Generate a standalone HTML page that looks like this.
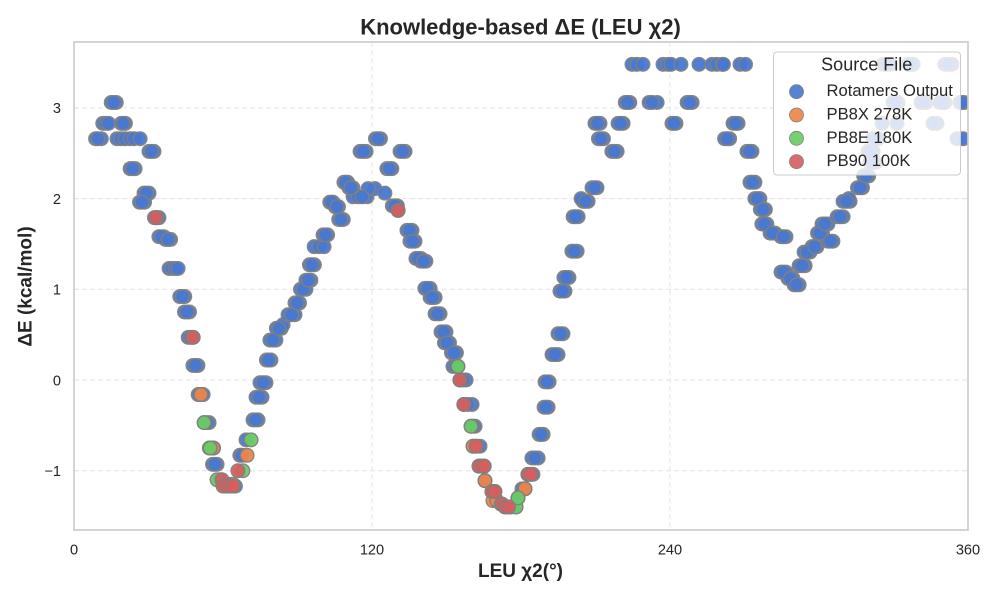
<!DOCTYPE html>
<html lang="en">
<head>
<meta charset="utf-8">
<title>Knowledge-based ΔE (LEU χ2)</title>
<style>
html,body{margin:0;padding:0;background:#fff;}
svg{display:block;font-family:"Liberation Sans",Arial,sans-serif;}
</style>
</head>
<body>
<svg id="chart" xmlns="http://www.w3.org/2000/svg" width="1000" height="600" viewBox="0 0 1000 600">
  <defs><clipPath id="plot-clip"><rect x="74" y="42" width="894" height="488"/></clipPath></defs>
  <rect width="1000" height="600" fill="#fff"/>
  <g id="grid"></g>
  <g id="marks" clip-path="url(#plot-clip)"></g>
  <rect x="74" y="42" width="894" height="488" fill="none" stroke="#cccccc" stroke-width="1.7"/>
  <g id="ticks" font-size="14.6" fill="#262626"></g>
  <text x="520.5" y="34.3" text-anchor="middle" font-size="22" font-weight="bold" fill="#262626">Knowledge-based ΔE (LEU χ2)</text>
  <text x="520.5" y="577" text-anchor="middle" font-size="19" font-weight="bold" fill="#262626">LEU χ2(°)</text>
  <text transform="translate(31.5,286.5) rotate(-90)" text-anchor="middle" font-size="19" font-weight="bold" fill="#262626">ΔE (kcal/mol)</text>
  <g>
    <rect x="773.5" y="52" width="187" height="123" rx="3.5" fill="#fff" fill-opacity="0.8" stroke="#cccccc" stroke-width="1"/>
    <text x="866.7" y="70.5" text-anchor="middle" font-size="18" fill="#262626">Source File</text>
    <g id="legend-entries" font-size="16.6" fill="#262626"></g>
  </g>
</svg>
<script>
var NS = 'http://www.w3.org/2000/svg';

// Tick labels
var xTicks = [0, 120, 240, 360];
var yTicks = [-1, 0, 1, 2, 3];

// Series: Rotamers Output
var rotamerAngles = [
15,17, 11.6,12.8,13.9,19,20.7, 8.7,11,17.3,18.9,20.5,22.6,24.2,26.6, 30.2,32.2, 22.6,24.6, 28.2,30.2, 26.4,28.4, 34.2,32.4, 34.2,36.2, 36.9,38.9, 38.3,39.5,40.7,41.9, 42.6,44.6, 44.5,46.5, 46,48, 47.9,49.9, 50,52, 52.4,54.4, 54.5,56.2, 55.8,57.6, 59,61,63,65, 66.8,67.6, 69.3, 72.1,74.1, 73.3,75.7, 74.9,77.3, 77.5,79.3, 78.9,81.3, 81.5,83.5, 84.2, 86.2,89, 89,90.8, 91.2,93.4, 93.4,95.4, 94.8,96.8, 96.7,98.7,100.7, 100.3,102.1, 106.6,108.4, 103,104.3, 105.2,106.5, 108.7,110.2, 110.7,112.3, 112.4,114.4,118, 121.2,118.4, 125.2, 116,
115.2,117.6, 121.4,123.4, 131.3,133.3, 126,128, 128.2,130.2, 130.5, 134.1,136.1, 137.3,135.3, 137.7,139.7, 139.7,141.7, 141.3,143.4, 145.4,143.4, 147.4,145.4, 147.8,149.8, 149.2,151.2, 152,154, 152.6,154.6, 155.4,157.9, 157,160.3, 159.9,161.5, 160.7,163.5, 163.1,165, 165.5, 168.3,169.5, 172.4, 173.6,176,178, 178.8, 180.4,181.6, 182.8,184.8, 184.4,186.9, 187.3,188.9, 189.3,190.9, 191.3,189.7, 192.5,194.9, 194.9,196.9, 195.7,197.7, 197.3,199.3, 200.5,202.6, 203,201, 205,207, 204.2, 208.6,210.6,
216.6,218.7, 211.2,213.2, 209.8,211.8,219.1,221.1, 222,223.8,231.6,234.8,232.8,246.9,248.9, 224.7,226.7,229.1,237.2,239.2,240.4,244.4,251.7,256.9,258.9,261,261.5,268.2,270.4, 242.4,240.8,267.4,265.4, 264,262, 271,273, 272.2,274.2, 274.2,276.2, 276.4,278.4, 279,277, 282.3,280.3, 284.7,286.7, 286.7,284.7, 289.5,287.5, 290,292, 292,294.4, 294,296.4, 297.2,299.2, 299.4,301.4, 303.6,305.6, 303.6,301.2, 307.3,309.7, 309.7,312.5, 312, 315.5,317.5, 318,320, 320.5,323, 319.7,321.8, 321.8,323.8, 325.4,331.4,347.5,345.9, 329.8,331.8,341.1,343.1,348.7,350.7,356.8,358.4, 325.8,328.6,335.9,337.9,350.7,353.5, 355.6,358
];
var rotamerDeltaE = [
3.06,3.06, 2.83,2.83,2.83,2.83,2.83, 2.66,2.66,2.66,2.66,2.66,2.66,2.66,2.66, 2.52,2.52, 2.33,2.33, 2.06,2.06, 1.96,1.96, 1.79,1.79, 1.58,1.58, 1.55,1.55, 1.23,1.23,1.23,1.23, 0.92,0.92, 0.75,0.75, 0.47,0.47, 0.16,0.16, -0.16,-0.16, -0.47,-0.47, -0.75,-0.75, -0.93,-0.93, -1.1,-1.17,-1.17,-1.17, -0.83,-0.83, -0.66, -0.44,-0.44, -0.19,-0.19, -0.03,-0.03, 0.22,0.22, 0.44,0.44, 0.57,0.57, 0.61, 0.72,0.72, 0.85,0.85, 1,1, 1.1,1.1, 1.27,1.27, 1.47,1.47,1.47, 1.6,1.6, 1.77,1.77, 1.96,1.96, 1.91,1.91, 2.18,2.18, 2.12,2.12, 2.02,2.02,2.02, 2.11,2.11, 2.06, 2.02,
2.52,2.52, 2.66,2.66, 2.52,2.52, 2.33,2.33, 1.92,1.92, 1.87, 1.65,1.65, 1.53,1.53, 1.34,1.34, 1.31,1.31, 1.01,1.01, 0.91,0.91, 0.73,0.73, 0.53,0.53, 0.41,0.41, 0.3,0.3, 0.15,0.15, 0,0, -0.27,-0.27, -0.51,-0.51, -0.73,-0.73, -0.95,-0.95, -1.11, -1.23,-1.23, -1.37, -1.4,-1.4,-1.4, -1.3, -1.2,-1.2, -1.04,-1.04, -0.86,-0.86, -0.6,-0.6, -0.3,-0.3, -0.02,-0.02, 0.28,0.28, 0.51,0.51, 0.98,0.98, 1.13,1.13, 1.42,1.42, 1.8,1.8, 1.97,1.97, 2, 2.12,2.12,
2.52,2.52, 2.66,2.66, 2.83,2.83,2.83,2.83, 3.06,3.06,3.06,3.06,3.06,3.06,3.06, 3.48,3.48,3.48,3.48,3.48,3.48,3.48,3.48,3.48,3.48,3.48,3.48,3.48,3.48, 2.83,2.83,2.83,2.83, 2.66,2.66, 2.52,2.52, 2.18,2.18, 2,2, 1.88,1.88, 1.72,1.72, 1.62,1.62, 1.58,1.58, 1.19,1.19, 1.12,1.12, 1.05,1.05, 1.26,1.26, 1.41,1.41, 1.47,1.47, 1.62,1.62, 1.53,1.53, 1.72,1.72, 1.8,1.8, 1.97,1.97, 2, 2.12,2.12, 2.25,2.25, 2.4,2.4, 2.52,2.52, 2.66,2.66, 2.83,2.83,2.83,2.83, 3.06,3.06,3.06,3.06,3.06,3.06,3.06,3.06, 3.48,3.48,3.48,3.48,3.48,3.48, 2.66,2.66
];

// Rotamers Output: the uppermost marker visible in each overlapping cluster
var rotamerTopAngles = [16,19.8,9.6,31.2,23.6,29.2,27.4,33.2,35.2,37.9,43.6,45.5,47,48.9,51,53.4,55.3,56.7,73.1,74.5,76.1,78.4,80.1,82.5,87.6,89.9,92.3,94.4,95.8,101.2,107.5,103.7,105.9,109.4,111.5,116.4,122.4,132.3,127,129.2,135.1,136.3,138.7,140.7,142.3,144.4,146.4,148.8,150.2,153,153.6,156.6,158.6,160.7,162,164,168.9,183.8,185.6,188.1,190.1,190.5,193.7,195.9,196.7,198.3,201.5,202,206,209.6,217.6,212.2,210.8,220.1,222.9,247.9,241.6,266.4,263,272,273.2,275.2,277.4,278,281.3,285.7,285.7,288.5,291,293.2,295.2,298.2,300.4,304.6,302.4,308.5,311.1,316.5,319,321.7,320.7,322.8,330.8,342.1,349.7,357.6,327.2,336.9,352.1];
var rotamerTopDeltaE = [3.06,2.83,2.66,2.52,2.33,2.06,1.96,1.79,1.58,1.55,0.92,0.75,0.47,0.16,-0.16,-0.47,-0.75,-0.93,-0.44,-0.19,-0.03,0.22,0.44,0.57,0.72,0.85,1,1.1,1.27,1.6,1.77,1.96,1.91,2.18,2.12,2.52,2.66,2.52,2.33,1.92,1.65,1.53,1.34,1.31,1.01,0.91,0.73,0.53,0.41,0.3,0.15,0,-0.27,-0.51,-0.73,-0.95,-1.23,-1.04,-0.86,-0.6,-0.3,-0.02,0.28,0.51,0.98,1.13,1.42,1.8,1.97,2.12,2.52,2.66,2.83,2.83,3.06,3.06,2.83,2.83,2.66,2.52,2.18,2,1.88,1.72,1.62,1.58,1.19,1.12,1.05,1.26,1.41,1.47,1.62,1.53,1.72,1.8,1.97,2.12,2.25,2.4,2.52,2.66,3.06,3.06,3.06,3.06,3.48,3.48,3.48];

// Series: PB8X 278K
var pb8xAngles = [51.1,56,69.7,62,64,160.7,165.2,165.5,168.7,170.3,172,181.6];
var pb8xDeltaE = [-0.16,-0.75,-0.83,-1.15,-1.15,-0.73,-0.95,-1.11,-1.33,-1.33,-1.37,-1.2];

// Series: PB8E 180K
var pb8eAngles = [52.4,54.8,57.6,68,71.3,154.6,159.9,175,178,178.8];
var pb8eDeltaE = [-0.47,-0.75,-1.1,-1,-0.66,0.15,-0.51,-1.4,-1.4,-1.3];

// Series: PB90 100K
var pb90Angles = [33,47.9,59.6,60,62,64,66,130.5,155.4,157,161.9,163.1,165,168.3,169.5,172.4,173.6,175,182.8,184];
var pb90DeltaE = [1.79,0.47,-1.1,-1.17,-1.17,-1.17,-1,1.87,0,-0.27,-0.73,-0.95,-0.95,-1.23,-1.23,-1.37,-1.4,-1.4,-1.04,-1.04];

// Legend labels
var seriesLabels = ['Rotamers Output', 'PB8X 278K', 'PB8E 180K', 'PB90 100K'];
var seriesColors = ['#4878d0', '#ee854a', '#6acc64', '#d65f5f'];

function xScale(v) { return 74 + v * (894 / 360); }
function yScale(v) { return 380 - v * 90.7; }

var grid = document.getElementById('grid');
var ticks = document.getElementById('ticks');
var marks = document.getElementById('marks');
var legendEntries = document.getElementById('legend-entries');

function make(tag, attrs) {
  var el = document.createElementNS(NS, tag);
  for (var k in attrs) { el.setAttribute(k, attrs[k]); }
  return el;
}

xTicks.forEach(function (t) {
  var px = xScale(t);
  if (t > 0 && t < 360) {
    var line = make('line', {x1: px, x2: px, y1: 42, y2: 530, stroke: '#e6e6e6', 'stroke-width': 1.1, 'stroke-dasharray': '5 3'});
    
    
    grid.appendChild(line);
  }
  var label = make('text', {x: px, y: 554.5, 'text-anchor': 'middle'});
  
  
  label.textContent = String(t);
  ticks.appendChild(label);
});

yTicks.forEach(function (t) {
  var py = yScale(t);
  var line = make('line', {x1: 74, x2: 968, y1: py, y2: py, stroke: '#e6e6e6', 'stroke-width': 1.1, 'stroke-dasharray': '5 3'});
  
  
  grid.appendChild(line);
  var label = make('text', {x: 61, y: py + 5.3, 'text-anchor': 'end'});
  
  
  label.textContent = String(t).replace('-', '\u2212');
  ticks.appendChild(label);
});

function drawSeries(angles, energies, color, group) {
  angles.forEach(function (a, i) {
    var dot = make('circle', {cx: xScale(a), cy: yScale(energies[i]), r: 6.8, fill: color, stroke: '#808080', 'stroke-width': 1.4, opacity: 0.95});
    
    
    group.appendChild(dot);
  });
}

[[rotamerAngles, rotamerDeltaE], [pb8xAngles, pb8xDeltaE], [pb8eAngles, pb8eDeltaE], [pb90Angles, pb90DeltaE]].forEach(function (s, i) {
  var g = make('g', {});
  
  
  marks.appendChild(g);
  drawSeries(s[0], s[1], seriesColors[i], g);
  if (i === 0) {
    drawSeries(rotamerTopAngles, rotamerTopDeltaE, seriesColors[0], g);
  }
});

seriesLabels.forEach(function (name, i) {
  var cy = 91.7 + i * 23.3;
  var swatch = make('circle', {cx: 796.5, cy: cy, r: 7, fill: seriesColors[i], stroke: '#808080', 'stroke-width': 0.8, 'fill-opacity': 0.92});
  
  
  legendEntries.appendChild(swatch);
  var text = make('text', {x: 826.5, y: cy + 4.5});
  
  
  text.textContent = name;
  legendEntries.appendChild(text);
});
</script>
</body>
</html>
